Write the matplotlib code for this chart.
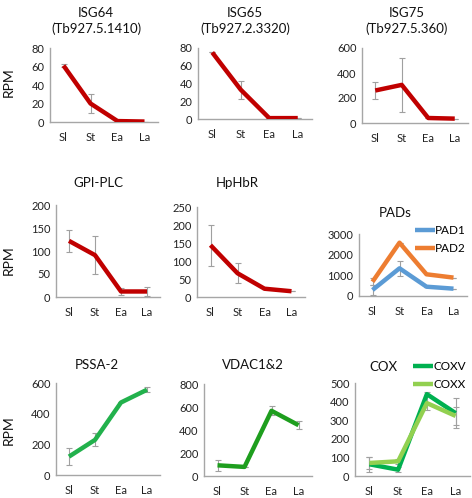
import matplotlib
matplotlib.use("Agg")
import matplotlib.pyplot as plt

plt.rcParams['font.family'] = ['Lato', 'DejaVu Sans']

stages = ["Sl", "St", "Ea", "La"]

isg64 = [61, 20, 1, 0.5]
isg64_err = [2, 10, 0, 0]
isg65 = [75, 33, 1, 1]
isg65_err = [0, 10, 0, 0]
isg75 = [260, 305, 40, 35]
isg75_err = [70, 215, 0, 0]
gpiplc = [122, 91, 12, 12]
gpiplc_err = [24, 42, 8, 10]
hphbr = [144, 66, 23, 16]
hphbr_err = [57, 28, 0, 0]
pad1 = [290, 1340, 450, 355]
pad1_err = [240, 360, 0, 0]
pad2 = [690, 2580, 1050, 890]
pad2_err = [160, 0, 0, 0]
pssa2 = [120, 229, 473, 556]
pssa2_err = [55, 43, 0, 15]
vdac = [93, 79, 567, 442]
vdac_err = [47, 0, 40, 35]
coxv = [63, 34, 440, 338]
coxv_err = [40, 15, 12, 80]
coxx = [70, 79, 392, 323]
coxx_err = [30, 15, 38, 50]

RED = "#C00000"
W, H = 472, 498
fig = plt.figure(figsize=(W / 100, H / 100), dpi=100)
AX_COL = "#A6A6A6"
ERR_COL = "#A0A0A0"


def make_ax(left, right, top, bottom, ymax, step):
    ax = fig.add_axes([left / W, (H - bottom) / H, (right - left) / W, (bottom - top) / H])
    ax.set_xlim(-0.5, 3.5)
    ax.set_ylim(0, ymax)
    ax.set_yticks(range(0, ymax + 1, step))
    ax.set_xticks(range(4))
    ax.set_xticklabels(stages)
    for s in ["top", "right"]:
        ax.spines[s].set_visible(False)
    for s in ["left", "bottom"]:
        ax.spines[s].set_color(AX_COL)
        ax.spines[s].set_linewidth(1.0)
    ax.tick_params(length=0, labelsize=8, colors="#222222")
    ax.tick_params(axis="x", pad=7)
    ax.tick_params(axis="y", pad=4)
    ax.patch.set_alpha(0)
    return ax


def series(ax, vals, errs, color, lw=3.2, label=None):
    x = list(range(4))
    ax.errorbar(x, vals, yerr=errs, fmt="none", ecolor=ERR_COL, elinewidth=0.8,
                capsize=2.5, capthick=0.8, zorder=2)
    ax.plot(x, vals, color=color, lw=lw, solid_capstyle="butt", zorder=3, label=label)


ax1 = make_ax(50, 158, 48, 122, 80, 20)
series(ax1, isg64, isg64_err, RED)
ax2 = make_ax(198, 312, 48, 119, 80, 20)
series(ax2, isg65, isg65_err, RED)
ax3 = make_ax(362, 468, 48, 123, 600, 200)
series(ax3, isg75, isg75_err, RED)

ax4 = make_ax(56, 160, 205, 297, 200, 50)
series(ax4, gpiplc, gpiplc_err, RED)
ax5 = make_ax(197, 305, 207, 297, 250, 50)
series(ax5, hphbr, hphbr_err, RED)
ax6 = make_ax(359, 467, 234, 296, 3000, 1000)
series(ax6, pad1, pad1_err, "#5B9BD5", label="PAD1")
series(ax6, pad2, pad2_err, "#ED7D31", label="PAD2")

ax7 = make_ax(56, 160, 383, 475, 600, 200)
series(ax7, pssa2, pssa2_err, "#22B14C")
ax8 = make_ax(204, 312, 384, 476, 800, 200)
series(ax8, vdac, vdac_err, "#1E9E1E")
ax9 = make_ax(355, 470, 383, 476, 500, 100)
series(ax9, coxv, coxv_err, "#00B050", label="COXV")
series(ax9, coxx, coxx_err, "#92D050", label="COXX")

for ax, anchor in [(ax6, (415, 225)), (ax9, (413, 361))]:
    ax.legend(loc="upper left", bbox_to_anchor=(anchor[0] / W, 1 - anchor[1] / H),
              bbox_transform=fig.transFigure, frameon=False, fontsize=8.5,
              handlelength=1.7, handletextpad=0.0, labelspacing=0.6, borderpad=0,
              borderaxespad=0)


def ftext(x, y, s, size=9.5, rot=0):
    fig.text(x / W, 1 - y / H, s, ha="center", va="center", fontsize=size, rotation=rot,
             color="#111111")


ftext(96, 13, "ISG64")
ftext(96, 29, "(Tb927.5.1410)")
ftext(245, 13, "ISG65")
ftext(245, 29, "(Tb927.2.3320)")
ftext(407, 13, "ISG75")
ftext(407, 29, "(Tb927.5.360)")
ftext(98, 183, "GPI-PLC")
ftext(237, 183, "HpHbR")
ftext(395, 213, "PADs")
ftext(97, 365, "PSSA-2")
ftext(253, 365, "VDAC1&2")
ftext(383, 367, "COX")
for y in [82, 260, 430]:
    ftext(9, y, "RPM", size=10, rot=90)

fig.savefig("out.png", dpi=100)
